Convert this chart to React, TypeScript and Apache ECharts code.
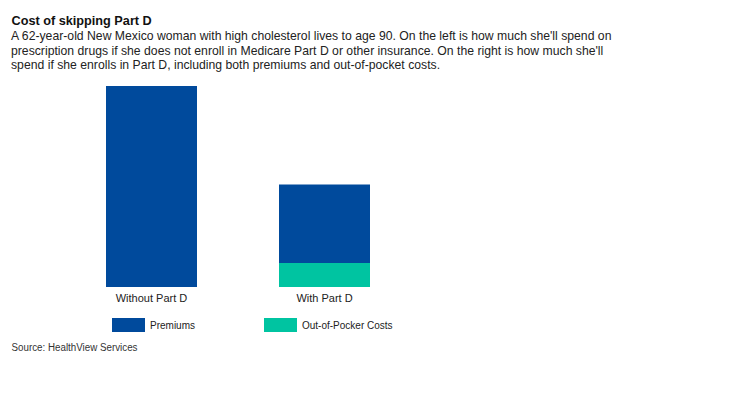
import React, { useEffect, useRef } from "react";
import * as echarts from "echarts";

const categories = ["Without Part D", "With Part D"];
const premiums = [100, 39];
const outOfPocket = [0, 12];
const titleText = "Cost of skipping Part D";
const subtitleLines = [
  "A 62-year-old New Mexico woman with high cholesterol lives to age 90. On the left is how much she'll spend on",
  "prescription drugs if she does not enroll in Medicare Part D or other insurance. On the right is how much she'll",
  "spend if she enrolls in Part D, including both premiums and out-of-pocket costs.",
];
const sourceText = "Source: HealthView Services";
const seriesNames = ["Premiums", "Out-of-Pocker Costs"];

const FONT = "'Liberation Sans', Arial, sans-serif";
const BLUE = "#004A9C";
const TEAL = "#00C4A1";

export default function App() {
  const ref = useRef<HTMLDivElement>(null);
  useEffect(() => {
    document.body.style.margin = "0";
    const chart = echarts.init(ref.current!, null, { renderer: "svg" });
    chart.setOption({
      animation: false,
      textStyle: { fontFamily: FONT },
      graphic: [
        {
          type: "text",
          x: 11.5,
          y: 13.3,
          scaleX: 0.94,
          style: {
            text: titleText,
            fontFamily: FONT,
            fontSize: 13.5,
            lineHeight: 14,
            fontWeight: "bold",
            fill: "#111",
            verticalAlign: "top",
          },
        },
        {
          type: "text",
          x: 11,
          y: 29,
          scaleX: 0.94,
          style: {
            text: subtitleLines.join("\n"),
            fontFamily: FONT,
            fontSize: 13,
            lineHeight: 14.4,
            fill: "#222",
            verticalAlign: "top",
          },
        },
        {
          type: "text",
          x: 11.5,
          y: 341.4,
          scaleX: 0.89,
          style: {
            text: sourceText,
            fontFamily: FONT,
            fontSize: 11,
            lineHeight: 11,
            fill: "#333",
            verticalAlign: "top",
          },
        },
      ],
      legend: [
        {
          left: 112,
          top: 318,
          padding: 0,
          icon: "rect",
          itemWidth: 33,
          itemHeight: 14,
          itemGap: 5,
          data: [seriesNames[0]],
          textStyle: { fontFamily: FONT, fontSize: 10, color: "#222" },
        },
        {
          left: 264,
          top: 318,
          padding: 0,
          icon: "rect",
          itemWidth: 33,
          itemHeight: 14,
          itemGap: 5,
          data: [seriesNames[1]],
          textStyle: { fontFamily: FONT, fontSize: 10, color: "#222" },
        },
      ],
      grid: { left: 65, width: 346, top: 86, bottom: 111 },
      xAxis: {
        type: "category",
        data: categories,
        axisLine: { show: false },
        axisTick: { show: false },
        axisLabel: { margin: 5, fontFamily: FONT, fontSize: 11, color: "#222" },
      },
      yAxis: { type: "value", min: 0, max: 100, show: false },
      series: [
        {
          name: seriesNames[1],
          type: "bar",
          stack: "total",
          barWidth: 91,
          data: outOfPocket,
          itemStyle: { color: TEAL },
        },
        {
          name: seriesNames[0],
          type: "bar",
          stack: "total",
          barWidth: 91,
          data: premiums,
          itemStyle: { color: BLUE },
        },
      ],
    });
    return () => chart.dispose();
  }, []);
  return <div ref={ref} style={{ width: 740, height: 398 }} />;
}
